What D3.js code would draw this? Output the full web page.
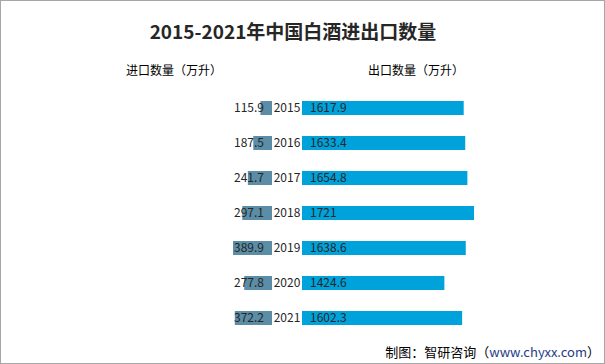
<!DOCTYPE html>
<html><head><meta charset="utf-8">
<script src="https://cdn.jsdelivr.net/npm/d3@7/dist/d3.min.js"></script>
<style>
html,body{margin:0;padding:0;background:#fff;}
svg{display:block;font-family:"Noto Sans CJK SC","Noto Sans",sans-serif;}
</style></head><body>
<svg id="chart" width="605" height="364"></svg>
<script>
const years = ["2015","2016","2017","2018","2019","2020","2021"];
const importValues = [115.9, 187.5, 241.7, 297.1, 389.9, 277.8, 372.2];
const exportValues = [1617.9, 1633.4, 1654.8, 1721, 1638.6, 1424.6, 1602.3];
const importLabels = ["115.9","187.5","241.7","297.1","389.9","277.8","372.2"];
const exportLabels = ["1617.9","1633.4","1654.8","1721","1638.6","1424.6","1602.3"];

const svg = d3.select("#chart");
const W = 605, H = 364;

svg.append("rect").attr("x",0.5).attr("y",0.5).attr("width",W-1).attr("height",H-1)
  .attr("fill","#fff").attr("stroke","#A6A6A6").attr("stroke-width",1);

// title
svg.append("text").attr("x",293).attr("y",39).attr("text-anchor","middle")
  .attr("font-size",19).attr("font-weight","bold").attr("fill","#262626")
  .text("2015-2021年中国白酒进出口数量");

svg.append("text").attr("x",126).attr("y",75).attr("font-size",12).attr("fill","#000")
  .text("进口数量（万升）");
svg.append("text").attr("x",368).attr("y",75).attr("font-size",12).attr("fill","#000")
  .text("出口数量（万升）");

const y = d3.scaleBand().domain(years).range([90.5,335.5]).paddingInner(0.6).paddingOuter(0.3);
const x = d3.scaleLinear().domain([0,1721]).range([0,172]);

const expX0 = 302, impX1 = 272;

// import bars (grow leftwards)
svg.selectAll("rect.imp").data(years).enter().append("rect")
  .attr("x",(d,i)=>impX1 - x(importValues[i]))
  .attr("y",d=>y(d)).attr("width",(d,i)=>x(importValues[i])).attr("height",y.bandwidth())
  .attr("fill","#5B8DA6");

// export bars
svg.selectAll("rect.exp").data(years).enter().append("rect")
  .attr("x",expX0).attr("y",d=>y(d)).attr("width",(d,i)=>x(exportValues[i])).attr("height",y.bandwidth())
  .attr("fill","#00A2DB");

const cy = d => y(d) + y.bandwidth()/2;

svg.selectAll("text.imp").data(years).enter().append("text")
  .attr("x",234).attr("y",d=>cy(d)).attr("dy","0.36em").attr("font-size",12).attr("fill","#262626")
  .text((d,i)=>importLabels[i]);

svg.selectAll("text.yr").data(years).enter().append("text")
  .attr("x",287).attr("y",d=>cy(d)).attr("dy","0.36em").attr("text-anchor","middle")
  .attr("font-size",12).attr("fill","#262626").text(d=>d);

svg.selectAll("text.exp").data(years).enter().append("text")
  .attr("x",310).attr("y",d=>cy(d)).attr("dy","0.36em").attr("font-size",12).attr("fill","#262626")
  .text((d,i)=>exportLabels[i]);

// footer
const ft = svg.append("text").attr("x",600).attr("y",357).attr("text-anchor","end")
  .attr("font-size",13).attr("fill","#000");
ft.append("tspan").text("制图：智研咨询（");
ft.append("tspan").attr("fill","#1F3C88").text("www.chyxx.com");
ft.append("tspan").text("）");
</script>
</body></html>
